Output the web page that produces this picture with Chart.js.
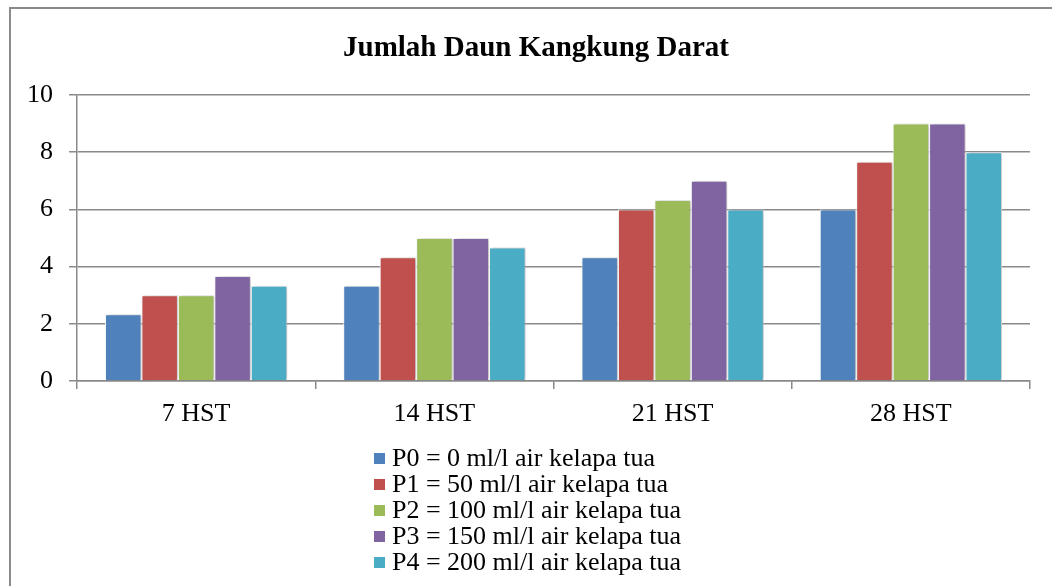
<!DOCTYPE html>
<html>
<head>
<meta charset="utf-8">
<title>Jumlah Daun Kangkung Darat</title>
<script src="https://cdn.jsdelivr.net/npm/chart.js@4/dist/chart.umd.min.js"></script>
<style>
    html, body { margin: 0; padding: 0; background: #fff; }
    #wrap { width: 1052px; height: 586px; position: relative; }
</style>
</head>
<body>
<div id="wrap"><canvas id="daunChart"></canvas></div>
<script>
const chartTitle = "Jumlah Daun Kangkung Darat";
const categories = ["7 HST", "14 HST", "21 HST", "28 HST"];
const seriesLabels = [
    "P0 = 0 ml/l air kelapa tua",
    "P1 = 50 ml/l air kelapa tua",
    "P2 = 100 ml/l air kelapa tua",
    "P3 = 150 ml/l air kelapa tua",
    "P4 = 200 ml/l air kelapa tua"
];
const p0 = [2.33, 3.33, 4.33, 6];
const p1 = [3, 4.33, 6, 7.67];
const p2 = [3, 5, 6.33, 9];
const p3 = [3.67, 5, 7, 9];
const p4 = [3.33, 4.67, 6, 8];
const seriesValues = [p0, p1, p2, p3, p4];
const seriesColors = ["#4F81BD", "#C0504D", "#9BBB59", "#8064A2", "#4BACC6"];
const yTicks = [0, 2, 4, 6, 8, 10];

const serif = "'Liberation Serif', 'Times New Roman', serif";
const lineGray = "#8a8a8a";

// frame, title, legend and the soft bar shadow
const excelLook = {
    id: "excelLook",
    beforeDatasetsDraw(chart) {
        const ctx = chart.ctx;
        ctx.save();
        ctx.shadowColor = "rgba(0,0,0,0.28)";
        ctx.shadowBlur = 4;
        ctx.shadowOffsetX = 2;
        ctx.shadowOffsetY = 0;
    },
    afterDatasetsDraw(chart) {
        chart.ctx.restore();
    },
    afterDraw(chart) {
        const ctx = chart.ctx;
        ctx.save();
        ctx.strokeStyle = lineGray;
        ctx.lineWidth = 2;
        ctx.strokeRect(10, 8, 1200, 1000);

        ctx.fillStyle = "#000";
        ctx.font = "bold 29px " + serif;
        ctx.textAlign = "center";
        ctx.textBaseline = "alphabetic";
        ctx.fillText(chartTitle, 536, 56);

        ctx.font = "26px " + serif;
        ctx.textAlign = "left";
        chart.data.datasets.forEach((ds, i) => {
            const base = 466 + i * 26;
            ctx.fillStyle = ds.backgroundColor;
            ctx.fillRect(374, base - 13, 11, 11);
            ctx.fillStyle = "#000";
            ctx.fillText(ds.label, 392, base);
        });
        ctx.restore();
    }
};

new Chart(document.getElementById("daunChart"), {
    type: "bar",
    data: {
        labels: categories,
        datasets: seriesLabels.map((label, i) => ({
            label: label,
            data: seriesValues[i],
            backgroundColor: seriesColors[i],
            borderColor: "#ffffff",
            borderWidth: 1,
            categoryPercentage: 0.765,
            barPercentage: 1
        }))
    },
    options: {
        responsive: true,
        maintainAspectRatio: false,
        animation: false,
        layout: { padding: { top: 95, right: 22, bottom: 155, left: 0 } },
        plugins: {
            legend: { display: false },
            title: { display: false },
            tooltip: { enabled: false }
        },
        scales: {
            x: {
                offset: true,
                afterFit: s => { s.height = 50; },
                grid: {
                    offset: true,
                    drawOnChartArea: false,
                    drawTicks: true,
                    tickLength: 8,
                    color: lineGray,
                    lineWidth: 1.5
                },
                border: { color: lineGray, width: 1.5 },
                ticks: {
                    color: "#000",
                    padding: 10,
                    font: { family: serif, size: 26 }
                }
            },
            y: {
                min: 0,
                max: 10,
                afterFit: s => { s.width = 77; },
                afterBuildTicks: s => { s.ticks = yTicks.map(v => ({ value: v })); },
                grid: {
                    color: lineGray,
                    lineWidth: 1.5,
                    drawTicks: true,
                    tickLength: 8
                },
                border: { color: lineGray, width: 1.5 },
                ticks: {
                    color: "#000",
                    padding: 16,
                    font: { family: serif, size: 26 }
                }
            }
        }
    },
    plugins: [excelLook]
});
</script>
</body>
</html>
